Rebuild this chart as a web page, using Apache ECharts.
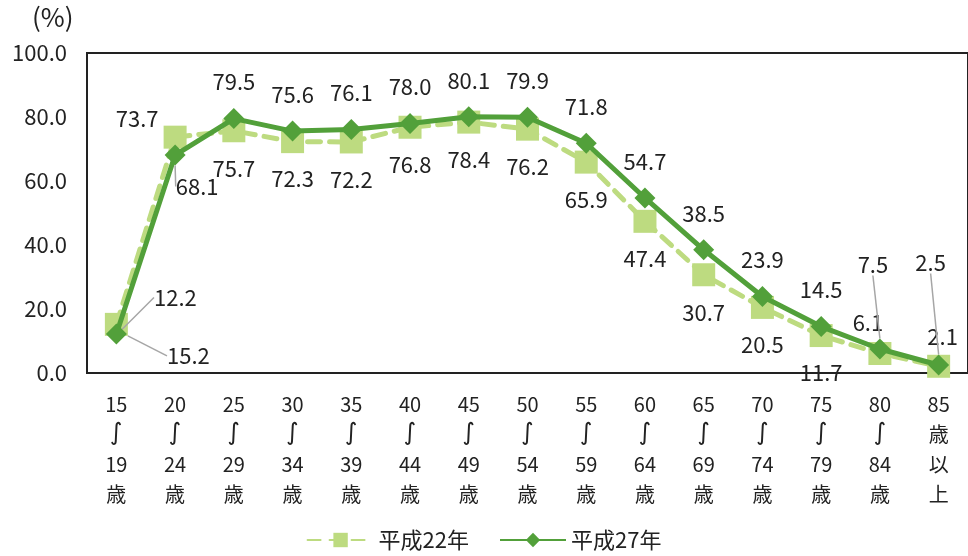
<!DOCTYPE html>
<html>
<head>
<meta charset="utf-8">
<script src="https://cdn.jsdelivr.net/npm/echarts@6/dist/echarts.min.js"></script>
<style>
  html, body { margin: 0; padding: 0; background: #fff; }
  #chart { width: 968px; height: 556px; }
</style>
</head>
<body>
<div id="chart"></div>
<script>
// age groups (vertical labels), wave marks drawn as rich text
const categories = [
  '15-19', '20-24', '25-29', '30-34', '35-39', '40-44', '45-49', '50-54',
  '55-59', '60-64', '65-69', '70-74', '75-79', '80-84', '85+'
];
const h22 = [15.2, 73.7, 75.7, 72.3, 72.2, 76.8, 78.4, 76.2, 65.9, 47.4, 30.7, 20.5, 11.7, 6.1, 2.1];
const h27 = [12.2, 68.1, 79.5, 75.6, 76.1, 78.0, 80.1, 79.9, 71.8, 54.7, 38.5, 23.9, 14.5, 7.5, 2.5];
const yTicks = [0, 20, 40, 60, 80, 100];

// label nudges for crowded points: [dx, dy, leader]
const shiftH22 = { 0: [72, -6, true], 1: [-38, -56, false], 13: [-12, -68, false], 14: [4, -67, false] };
const shiftH27 = { 0: [59, 0, true], 1: [22, 68, true], 13: [-7, -48, true], 14: [-8, -66, true] };

const FONT = '"Noto Sans CJK JP", "Noto Sans", sans-serif';
const light = '#bddb80';
const dark = '#52a03a';

function ageLabel(c) {
  if (c.endsWith('+')) return c.slice(0, -1) + '\n歳\n以\n上';
  const [a, b] = c.split('-');
  return a + '\n{w|∫}\n' + b + '\n歳';
}

function items(vals, shift) {
  return vals.map((v, i) => shift[i] && shift[i][2]
    ? { value: v, labelLine: { show: true } }
    : v);
}

const chart = echarts.init(document.getElementById('chart'));
chart.setOption({
  animation: false,
  textStyle: { fontFamily: FONT },
  graphic: [{
    type: 'text', left: 32, top: 4,
    style: { text: '(%)', fontSize: 26, fontFamily: FONT, fill: '#222' }
  }],
  grid: {
    left: 87, top: 53, bottom: 183, width: 886,
    show: true, borderColor: '#222', borderWidth: 2
  },
  legend: {
    bottom: 0, left: 'center',
    itemWidth: 66, itemHeight: 18, itemGap: 30,
    textStyle: { fontSize: 22, color: '#222', fontFamily: FONT },
    data: ['平成22年', '平成27年']
  },
  xAxis: {
    type: 'category',
    data: categories,
    axisLine: { lineStyle: { color: '#222', width: 2 } },
    axisTick: { show: false },
    axisLabel: {
      fontSize: 20, lineHeight: 30, color: '#222', margin: 16, interval: 0, fontFamily: FONT,
      formatter: ageLabel,
      rich: { w: { fontSize: 24, lineHeight: 30, color: '#222', fontFamily: '"DejaVu Sans"' } }
    }
  },
  yAxis: {
    type: 'value',
    min: yTicks[0], max: yTicks[yTicks.length - 1], interval: 20,
    splitLine: { show: false },
    axisTick: { show: false },
    axisLine: { show: true, lineStyle: { color: '#222', width: 2 } },
    axisLabel: { fontSize: 22, color: '#222', margin: 20, formatter: v => v.toFixed(1), fontFamily: FONT }
  },
  series: [
    {
      name: '平成22年',
      type: 'line',
      data: items(h22, shiftH22),
      symbol: 'rect', symbolSize: 23,
      itemStyle: { color: light },
      lineStyle: { color: light, width: 5, type: [13, 9], cap: 'round' },
      label: {
        show: true, position: 'bottom', distance: 15,
        fontSize: 22, color: '#222', fontFamily: FONT,
        formatter: p => p.value.toFixed(1)
      },
      labelLine: { show: false, lineStyle: { color: '#a6a6a6', width: 1.5 } },
      labelLayout: p => {
        const s = shiftH22[p.dataIndex];
        return s ? { dx: s[0], dy: s[1] } : {};
      },
      z: 2
    },
    {
      name: '平成27年',
      type: 'line',
      data: items(h27, shiftH27),
      symbol: 'diamond', symbolSize: 21,
      itemStyle: { color: dark },
      lineStyle: { color: dark, width: 5 },
      label: {
        show: true, position: 'top', distance: 15,
        fontSize: 22, color: '#222', fontFamily: FONT,
        formatter: p => p.value.toFixed(1)
      },
      labelLine: { show: false, lineStyle: { color: '#a6a6a6', width: 1.5 } },
      labelLayout: p => {
        const s = shiftH27[p.dataIndex];
        return s ? { dx: s[0], dy: s[1] } : {};
      },
      z: 3
    }
  ]
});
</script>
</body>
</html>
